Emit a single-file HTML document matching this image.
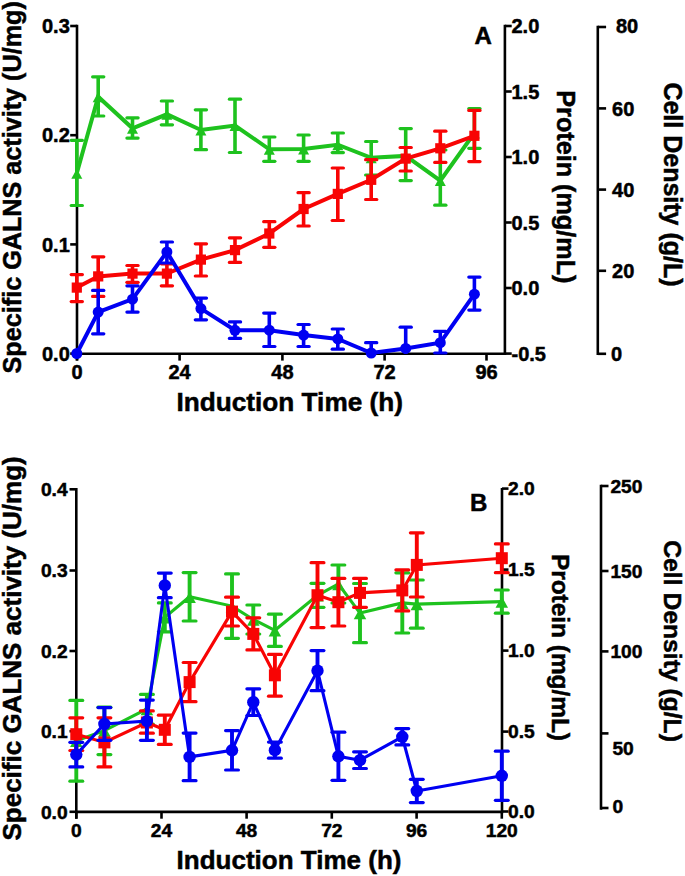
<!DOCTYPE html>
<html><head><meta charset="utf-8"><style>
html,body{margin:0;padding:0;background:#fff;width:685px;height:876px;overflow:hidden}
svg{display:block}
text{font-family:"Liberation Sans",sans-serif;font-weight:bold;fill:#000;stroke:#000;stroke-width:0.5px}
</style></head><body>
<svg width="685" height="876" viewBox="0 0 685 876">
<rect width="685" height="876" fill="#fff"/>
<line x1="77.00" y1="24.80" x2="77.00" y2="360.60" stroke="#000" stroke-width="2.6" stroke-linecap="butt"/>
<line x1="70.20" y1="26.00" x2="77.00" y2="26.00" stroke="#000" stroke-width="2.6" stroke-linecap="butt"/>
<line x1="70.20" y1="135.20" x2="77.00" y2="135.20" stroke="#000" stroke-width="2.6" stroke-linecap="butt"/>
<line x1="70.20" y1="244.40" x2="77.00" y2="244.40" stroke="#000" stroke-width="2.6" stroke-linecap="butt"/>
<line x1="70.20" y1="353.60" x2="77.00" y2="353.60" stroke="#000" stroke-width="2.6" stroke-linecap="butt"/>
<text x="69.80" y="33.10" font-size="20" text-anchor="end">0.3</text>
<text x="69.80" y="142.30" font-size="20" text-anchor="end">0.2</text>
<text x="69.80" y="251.50" font-size="20" text-anchor="end">0.1</text>
<text x="69.80" y="360.70" font-size="20" text-anchor="end">0.0</text>
<line x1="75.70" y1="353.80" x2="504.90" y2="353.80" stroke="#000" stroke-width="2.6" stroke-linecap="butt"/>
<line x1="77.00" y1="353.80" x2="77.00" y2="360.60" stroke="#000" stroke-width="2.6" stroke-linecap="butt"/>
<text x="77.00" y="379.20" font-size="20" text-anchor="middle">0</text>
<line x1="179.60" y1="353.80" x2="179.60" y2="360.60" stroke="#000" stroke-width="2.6" stroke-linecap="butt"/>
<text x="179.60" y="379.20" font-size="20" text-anchor="middle">24</text>
<line x1="282.40" y1="353.80" x2="282.40" y2="360.60" stroke="#000" stroke-width="2.6" stroke-linecap="butt"/>
<text x="282.40" y="379.20" font-size="20" text-anchor="middle">48</text>
<line x1="384.60" y1="353.80" x2="384.60" y2="360.60" stroke="#000" stroke-width="2.6" stroke-linecap="butt"/>
<text x="384.60" y="379.20" font-size="20" text-anchor="middle">72</text>
<line x1="486.50" y1="353.80" x2="486.50" y2="360.60" stroke="#000" stroke-width="2.6" stroke-linecap="butt"/>
<text x="486.50" y="379.20" font-size="20" text-anchor="middle">96</text>
<text x="176.50" y="410.60" font-size="26.2" text-anchor="start">Induction Time (h)</text>
<line x1="504.90" y1="24.80" x2="504.90" y2="355.10" stroke="#000" stroke-width="2.6" stroke-linecap="butt"/>
<line x1="504.90" y1="26.00" x2="511.70" y2="26.00" stroke="#000" stroke-width="2.6" stroke-linecap="butt"/>
<text x="511.50" y="33.10" font-size="20" text-anchor="start">2.0</text>
<line x1="504.90" y1="91.50" x2="511.70" y2="91.50" stroke="#000" stroke-width="2.6" stroke-linecap="butt"/>
<text x="511.50" y="98.60" font-size="20" text-anchor="start">1.5</text>
<line x1="504.90" y1="157.00" x2="511.70" y2="157.00" stroke="#000" stroke-width="2.6" stroke-linecap="butt"/>
<text x="511.50" y="164.10" font-size="20" text-anchor="start">1.0</text>
<line x1="504.90" y1="222.50" x2="511.70" y2="222.50" stroke="#000" stroke-width="2.6" stroke-linecap="butt"/>
<text x="511.50" y="229.60" font-size="20" text-anchor="start">0.5</text>
<line x1="504.90" y1="288.00" x2="511.70" y2="288.00" stroke="#000" stroke-width="2.6" stroke-linecap="butt"/>
<text x="511.50" y="295.10" font-size="20" text-anchor="start">0.0</text>
<line x1="504.90" y1="353.60" x2="511.70" y2="353.60" stroke="#000" stroke-width="2.6" stroke-linecap="butt"/>
<text x="511.50" y="360.70" font-size="20" text-anchor="start">-0.5</text>
<line x1="597.80" y1="25.80" x2="597.80" y2="355.10" stroke="#000" stroke-width="2.6" stroke-linecap="butt"/>
<line x1="597.80" y1="27.00" x2="606.10" y2="27.00" stroke="#000" stroke-width="2.6" stroke-linecap="butt"/>
<text x="616.00" y="32.60" font-size="20" text-anchor="start">80</text>
<line x1="597.80" y1="108.40" x2="606.10" y2="108.40" stroke="#000" stroke-width="2.6" stroke-linecap="butt"/>
<text x="612.10" y="115.50" font-size="20" text-anchor="start">60</text>
<line x1="597.80" y1="189.60" x2="606.10" y2="189.60" stroke="#000" stroke-width="2.6" stroke-linecap="butt"/>
<text x="612.10" y="196.70" font-size="20" text-anchor="start">40</text>
<line x1="597.80" y1="270.80" x2="606.10" y2="270.80" stroke="#000" stroke-width="2.6" stroke-linecap="butt"/>
<text x="612.10" y="277.90" font-size="20" text-anchor="start">20</text>
<line x1="597.80" y1="353.80" x2="606.10" y2="353.80" stroke="#000" stroke-width="2.6" stroke-linecap="butt"/>
<text x="611.00" y="360.90" font-size="20" text-anchor="start">0</text>
<text x="21.50" y="373.43" font-size="25.2" text-anchor="start" transform="rotate(-90 21.50 373.43)">Specific GALNS activity (U/mg)</text>
<text x="557.30" y="90.31" font-size="25.2" text-anchor="start" transform="rotate(90 557.30 90.31)">Protein (mg/mL)</text>
<text x="664.00" y="82.38" font-size="25.0" text-anchor="start" transform="rotate(90 664.00 82.38)">Cell Density (g/L)</text>
<text x="474.40" y="44.00" font-size="24" text-anchor="start">A</text>
<line x1="76.80" y1="173.20" x2="76.80" y2="140.30" stroke="#1ec21e" stroke-width="3.6" stroke-linecap="butt"/>
<line x1="71.20" y1="140.30" x2="82.40" y2="140.30" stroke="#1ec21e" stroke-width="3.2" stroke-linecap="round"/>
<line x1="76.80" y1="173.20" x2="76.80" y2="205.50" stroke="#1ec21e" stroke-width="3.6" stroke-linecap="butt"/>
<line x1="71.20" y1="205.50" x2="82.40" y2="205.50" stroke="#1ec21e" stroke-width="3.2" stroke-linecap="round"/>
<line x1="98.20" y1="96.80" x2="98.20" y2="76.80" stroke="#1ec21e" stroke-width="3.6" stroke-linecap="butt"/>
<line x1="92.60" y1="76.80" x2="103.80" y2="76.80" stroke="#1ec21e" stroke-width="3.2" stroke-linecap="round"/>
<line x1="98.20" y1="96.80" x2="98.20" y2="116.00" stroke="#1ec21e" stroke-width="3.6" stroke-linecap="butt"/>
<line x1="92.60" y1="116.00" x2="103.80" y2="116.00" stroke="#1ec21e" stroke-width="3.2" stroke-linecap="round"/>
<line x1="132.50" y1="128.30" x2="132.50" y2="117.80" stroke="#1ec21e" stroke-width="3.6" stroke-linecap="butt"/>
<line x1="126.90" y1="117.80" x2="138.10" y2="117.80" stroke="#1ec21e" stroke-width="3.2" stroke-linecap="round"/>
<line x1="132.50" y1="128.30" x2="132.50" y2="138.10" stroke="#1ec21e" stroke-width="3.6" stroke-linecap="butt"/>
<line x1="126.90" y1="138.10" x2="138.10" y2="138.10" stroke="#1ec21e" stroke-width="3.2" stroke-linecap="round"/>
<line x1="166.90" y1="114.30" x2="166.90" y2="101.00" stroke="#1ec21e" stroke-width="3.6" stroke-linecap="butt"/>
<line x1="161.30" y1="101.00" x2="172.50" y2="101.00" stroke="#1ec21e" stroke-width="3.2" stroke-linecap="round"/>
<line x1="166.90" y1="114.30" x2="166.90" y2="124.80" stroke="#1ec21e" stroke-width="3.6" stroke-linecap="butt"/>
<line x1="161.30" y1="124.80" x2="172.50" y2="124.80" stroke="#1ec21e" stroke-width="3.2" stroke-linecap="round"/>
<line x1="200.90" y1="130.00" x2="200.90" y2="109.80" stroke="#1ec21e" stroke-width="3.6" stroke-linecap="butt"/>
<line x1="195.30" y1="109.80" x2="206.50" y2="109.80" stroke="#1ec21e" stroke-width="3.2" stroke-linecap="round"/>
<line x1="200.90" y1="130.00" x2="200.90" y2="149.70" stroke="#1ec21e" stroke-width="3.6" stroke-linecap="butt"/>
<line x1="195.30" y1="149.70" x2="206.50" y2="149.70" stroke="#1ec21e" stroke-width="3.2" stroke-linecap="round"/>
<line x1="235.00" y1="125.50" x2="235.00" y2="99.20" stroke="#1ec21e" stroke-width="3.6" stroke-linecap="butt"/>
<line x1="229.40" y1="99.20" x2="240.60" y2="99.20" stroke="#1ec21e" stroke-width="3.2" stroke-linecap="round"/>
<line x1="235.00" y1="125.50" x2="235.00" y2="152.50" stroke="#1ec21e" stroke-width="3.6" stroke-linecap="butt"/>
<line x1="229.40" y1="152.50" x2="240.60" y2="152.50" stroke="#1ec21e" stroke-width="3.2" stroke-linecap="round"/>
<line x1="269.30" y1="149.30" x2="269.30" y2="137.00" stroke="#1ec21e" stroke-width="3.6" stroke-linecap="butt"/>
<line x1="263.70" y1="137.00" x2="274.90" y2="137.00" stroke="#1ec21e" stroke-width="3.2" stroke-linecap="round"/>
<line x1="269.30" y1="149.30" x2="269.30" y2="161.30" stroke="#1ec21e" stroke-width="3.6" stroke-linecap="butt"/>
<line x1="263.70" y1="161.30" x2="274.90" y2="161.30" stroke="#1ec21e" stroke-width="3.2" stroke-linecap="round"/>
<line x1="303.60" y1="149.00" x2="303.60" y2="135.00" stroke="#1ec21e" stroke-width="3.6" stroke-linecap="butt"/>
<line x1="298.00" y1="135.00" x2="309.20" y2="135.00" stroke="#1ec21e" stroke-width="3.2" stroke-linecap="round"/>
<line x1="303.60" y1="149.00" x2="303.60" y2="161.30" stroke="#1ec21e" stroke-width="3.6" stroke-linecap="butt"/>
<line x1="298.00" y1="161.30" x2="309.20" y2="161.30" stroke="#1ec21e" stroke-width="3.2" stroke-linecap="round"/>
<line x1="337.80" y1="144.70" x2="337.80" y2="133.00" stroke="#1ec21e" stroke-width="3.6" stroke-linecap="butt"/>
<line x1="332.20" y1="133.00" x2="343.40" y2="133.00" stroke="#1ec21e" stroke-width="3.2" stroke-linecap="round"/>
<line x1="337.80" y1="144.70" x2="337.80" y2="152.60" stroke="#1ec21e" stroke-width="3.6" stroke-linecap="butt"/>
<line x1="332.20" y1="152.60" x2="343.40" y2="152.60" stroke="#1ec21e" stroke-width="3.2" stroke-linecap="round"/>
<line x1="371.20" y1="157.80" x2="371.20" y2="141.50" stroke="#1ec21e" stroke-width="3.6" stroke-linecap="butt"/>
<line x1="365.60" y1="141.50" x2="376.80" y2="141.50" stroke="#1ec21e" stroke-width="3.2" stroke-linecap="round"/>
<line x1="371.20" y1="157.80" x2="371.20" y2="175.00" stroke="#1ec21e" stroke-width="3.6" stroke-linecap="butt"/>
<line x1="365.60" y1="175.00" x2="376.80" y2="175.00" stroke="#1ec21e" stroke-width="3.2" stroke-linecap="round"/>
<line x1="405.70" y1="155.90" x2="405.70" y2="128.60" stroke="#1ec21e" stroke-width="3.6" stroke-linecap="butt"/>
<line x1="400.10" y1="128.60" x2="411.30" y2="128.60" stroke="#1ec21e" stroke-width="3.2" stroke-linecap="round"/>
<line x1="405.70" y1="155.90" x2="405.70" y2="180.60" stroke="#1ec21e" stroke-width="3.6" stroke-linecap="butt"/>
<line x1="400.10" y1="180.60" x2="411.30" y2="180.60" stroke="#1ec21e" stroke-width="3.2" stroke-linecap="round"/>
<line x1="440.30" y1="180.60" x2="440.30" y2="150.00" stroke="#1ec21e" stroke-width="3.6" stroke-linecap="butt"/>
<line x1="434.70" y1="150.00" x2="445.90" y2="150.00" stroke="#1ec21e" stroke-width="3.2" stroke-linecap="round"/>
<line x1="440.30" y1="180.60" x2="440.30" y2="205.20" stroke="#1ec21e" stroke-width="3.6" stroke-linecap="butt"/>
<line x1="434.70" y1="205.20" x2="445.90" y2="205.20" stroke="#1ec21e" stroke-width="3.2" stroke-linecap="round"/>
<line x1="474.40" y1="133.00" x2="474.40" y2="108.50" stroke="#1ec21e" stroke-width="3.6" stroke-linecap="butt"/>
<line x1="468.80" y1="108.50" x2="480.00" y2="108.50" stroke="#1ec21e" stroke-width="3.2" stroke-linecap="round"/>
<line x1="474.40" y1="133.00" x2="474.40" y2="148.30" stroke="#1ec21e" stroke-width="3.6" stroke-linecap="butt"/>
<line x1="468.80" y1="148.30" x2="480.00" y2="148.30" stroke="#1ec21e" stroke-width="3.2" stroke-linecap="round"/>
<polyline points="76.80,173.20 98.20,96.80 132.50,128.30 166.90,114.30 200.90,130.00 235.00,125.50 269.30,149.30 303.60,149.00 337.80,144.70 371.20,157.80 405.70,155.90 440.30,180.60 474.40,133.00" fill="none" stroke="#1ec21e" stroke-width="4.0" stroke-linejoin="miter"/>
<polygon points="76.80,168.70 71.30,178.70 82.30,178.70" fill="#1ec21e"/>
<polygon points="98.20,92.30 92.70,102.30 103.70,102.30" fill="#1ec21e"/>
<polygon points="132.50,123.80 127.00,133.80 138.00,133.80" fill="#1ec21e"/>
<polygon points="166.90,109.80 161.40,119.80 172.40,119.80" fill="#1ec21e"/>
<polygon points="200.90,125.50 195.40,135.50 206.40,135.50" fill="#1ec21e"/>
<polygon points="235.00,121.00 229.50,131.00 240.50,131.00" fill="#1ec21e"/>
<polygon points="269.30,144.80 263.80,154.80 274.80,154.80" fill="#1ec21e"/>
<polygon points="303.60,144.50 298.10,154.50 309.10,154.50" fill="#1ec21e"/>
<polygon points="337.80,140.20 332.30,150.20 343.30,150.20" fill="#1ec21e"/>
<polygon points="371.20,153.30 365.70,163.30 376.70,163.30" fill="#1ec21e"/>
<polygon points="405.70,151.40 400.20,161.40 411.20,161.40" fill="#1ec21e"/>
<polygon points="440.30,176.10 434.80,186.10 445.80,186.10" fill="#1ec21e"/>
<polygon points="474.40,128.50 468.90,138.50 479.90,138.50" fill="#1ec21e"/>
<line x1="76.80" y1="287.60" x2="76.80" y2="274.60" stroke="#f80404" stroke-width="3.6" stroke-linecap="butt"/>
<line x1="71.20" y1="274.60" x2="82.40" y2="274.60" stroke="#f80404" stroke-width="3.2" stroke-linecap="round"/>
<line x1="76.80" y1="287.60" x2="76.80" y2="301.60" stroke="#f80404" stroke-width="3.6" stroke-linecap="butt"/>
<line x1="71.20" y1="301.60" x2="82.40" y2="301.60" stroke="#f80404" stroke-width="3.2" stroke-linecap="round"/>
<line x1="98.20" y1="276.40" x2="98.20" y2="256.80" stroke="#f80404" stroke-width="3.6" stroke-linecap="butt"/>
<line x1="92.60" y1="256.80" x2="103.80" y2="256.80" stroke="#f80404" stroke-width="3.2" stroke-linecap="round"/>
<line x1="98.20" y1="276.40" x2="98.20" y2="296.40" stroke="#f80404" stroke-width="3.6" stroke-linecap="butt"/>
<line x1="92.60" y1="296.40" x2="103.80" y2="296.40" stroke="#f80404" stroke-width="3.2" stroke-linecap="round"/>
<line x1="132.50" y1="273.60" x2="132.50" y2="265.50" stroke="#f80404" stroke-width="3.6" stroke-linecap="butt"/>
<line x1="126.90" y1="265.50" x2="138.10" y2="265.50" stroke="#f80404" stroke-width="3.2" stroke-linecap="round"/>
<line x1="132.50" y1="273.60" x2="132.50" y2="282.30" stroke="#f80404" stroke-width="3.6" stroke-linecap="butt"/>
<line x1="126.90" y1="282.30" x2="138.10" y2="282.30" stroke="#f80404" stroke-width="3.2" stroke-linecap="round"/>
<line x1="166.90" y1="273.60" x2="166.90" y2="263.80" stroke="#f80404" stroke-width="3.6" stroke-linecap="butt"/>
<line x1="161.30" y1="263.80" x2="172.50" y2="263.80" stroke="#f80404" stroke-width="3.2" stroke-linecap="round"/>
<line x1="166.90" y1="273.60" x2="166.90" y2="285.80" stroke="#f80404" stroke-width="3.6" stroke-linecap="butt"/>
<line x1="161.30" y1="285.80" x2="172.50" y2="285.80" stroke="#f80404" stroke-width="3.2" stroke-linecap="round"/>
<line x1="200.90" y1="259.60" x2="200.90" y2="243.80" stroke="#f80404" stroke-width="3.6" stroke-linecap="butt"/>
<line x1="195.30" y1="243.80" x2="206.50" y2="243.80" stroke="#f80404" stroke-width="3.2" stroke-linecap="round"/>
<line x1="200.90" y1="259.60" x2="200.90" y2="276.00" stroke="#f80404" stroke-width="3.6" stroke-linecap="butt"/>
<line x1="195.30" y1="276.00" x2="206.50" y2="276.00" stroke="#f80404" stroke-width="3.2" stroke-linecap="round"/>
<line x1="235.00" y1="250.10" x2="235.00" y2="237.80" stroke="#f80404" stroke-width="3.6" stroke-linecap="butt"/>
<line x1="229.40" y1="237.80" x2="240.60" y2="237.80" stroke="#f80404" stroke-width="3.2" stroke-linecap="round"/>
<line x1="235.00" y1="250.10" x2="235.00" y2="262.40" stroke="#f80404" stroke-width="3.6" stroke-linecap="butt"/>
<line x1="229.40" y1="262.40" x2="240.60" y2="262.40" stroke="#f80404" stroke-width="3.2" stroke-linecap="round"/>
<line x1="269.30" y1="233.50" x2="269.30" y2="221.70" stroke="#f80404" stroke-width="3.6" stroke-linecap="butt"/>
<line x1="263.70" y1="221.70" x2="274.90" y2="221.70" stroke="#f80404" stroke-width="3.2" stroke-linecap="round"/>
<line x1="269.30" y1="233.50" x2="269.30" y2="247.30" stroke="#f80404" stroke-width="3.6" stroke-linecap="butt"/>
<line x1="263.70" y1="247.30" x2="274.90" y2="247.30" stroke="#f80404" stroke-width="3.2" stroke-linecap="round"/>
<line x1="303.60" y1="209.00" x2="303.60" y2="192.70" stroke="#f80404" stroke-width="3.6" stroke-linecap="butt"/>
<line x1="298.00" y1="192.70" x2="309.20" y2="192.70" stroke="#f80404" stroke-width="3.2" stroke-linecap="round"/>
<line x1="303.60" y1="209.00" x2="303.60" y2="226.00" stroke="#f80404" stroke-width="3.6" stroke-linecap="butt"/>
<line x1="298.00" y1="226.00" x2="309.20" y2="226.00" stroke="#f80404" stroke-width="3.2" stroke-linecap="round"/>
<line x1="337.80" y1="193.90" x2="337.80" y2="168.00" stroke="#f80404" stroke-width="3.6" stroke-linecap="butt"/>
<line x1="332.20" y1="168.00" x2="343.40" y2="168.00" stroke="#f80404" stroke-width="3.2" stroke-linecap="round"/>
<line x1="337.80" y1="193.90" x2="337.80" y2="220.50" stroke="#f80404" stroke-width="3.6" stroke-linecap="butt"/>
<line x1="332.20" y1="220.50" x2="343.40" y2="220.50" stroke="#f80404" stroke-width="3.2" stroke-linecap="round"/>
<line x1="371.20" y1="179.80" x2="371.20" y2="159.70" stroke="#f80404" stroke-width="3.6" stroke-linecap="butt"/>
<line x1="365.60" y1="159.70" x2="376.80" y2="159.70" stroke="#f80404" stroke-width="3.2" stroke-linecap="round"/>
<line x1="371.20" y1="179.80" x2="371.20" y2="199.50" stroke="#f80404" stroke-width="3.6" stroke-linecap="butt"/>
<line x1="365.60" y1="199.50" x2="376.80" y2="199.50" stroke="#f80404" stroke-width="3.2" stroke-linecap="round"/>
<line x1="405.70" y1="158.60" x2="405.70" y2="147.50" stroke="#f80404" stroke-width="3.6" stroke-linecap="butt"/>
<line x1="400.10" y1="147.50" x2="411.30" y2="147.50" stroke="#f80404" stroke-width="3.2" stroke-linecap="round"/>
<line x1="405.70" y1="158.60" x2="405.70" y2="171.00" stroke="#f80404" stroke-width="3.6" stroke-linecap="butt"/>
<line x1="400.10" y1="171.00" x2="411.30" y2="171.00" stroke="#f80404" stroke-width="3.2" stroke-linecap="round"/>
<line x1="440.30" y1="148.30" x2="440.30" y2="131.20" stroke="#f80404" stroke-width="3.6" stroke-linecap="butt"/>
<line x1="434.70" y1="131.20" x2="445.90" y2="131.20" stroke="#f80404" stroke-width="3.2" stroke-linecap="round"/>
<line x1="440.30" y1="148.30" x2="440.30" y2="162.40" stroke="#f80404" stroke-width="3.6" stroke-linecap="butt"/>
<line x1="434.70" y1="162.40" x2="445.90" y2="162.40" stroke="#f80404" stroke-width="3.2" stroke-linecap="round"/>
<line x1="474.40" y1="135.80" x2="474.40" y2="110.40" stroke="#f80404" stroke-width="3.6" stroke-linecap="butt"/>
<line x1="468.80" y1="110.40" x2="480.00" y2="110.40" stroke="#f80404" stroke-width="3.2" stroke-linecap="round"/>
<line x1="474.40" y1="135.80" x2="474.40" y2="161.60" stroke="#f80404" stroke-width="3.6" stroke-linecap="butt"/>
<line x1="468.80" y1="161.60" x2="480.00" y2="161.60" stroke="#f80404" stroke-width="3.2" stroke-linecap="round"/>
<polyline points="76.80,287.60 98.20,276.40 132.50,273.60 166.90,273.60 200.90,259.60 235.00,250.10 269.30,233.50 303.60,209.00 337.80,193.90 371.20,179.80 405.70,158.60 440.30,148.30 474.40,135.80" fill="none" stroke="#f80404" stroke-width="4.0" stroke-linejoin="miter"/>
<rect x="71.70" y="282.50" width="10.2" height="10.2" fill="#f80404"/>
<rect x="93.10" y="271.30" width="10.2" height="10.2" fill="#f80404"/>
<rect x="127.40" y="268.50" width="10.2" height="10.2" fill="#f80404"/>
<rect x="161.80" y="268.50" width="10.2" height="10.2" fill="#f80404"/>
<rect x="195.80" y="254.50" width="10.2" height="10.2" fill="#f80404"/>
<rect x="229.90" y="245.00" width="10.2" height="10.2" fill="#f80404"/>
<rect x="264.20" y="228.40" width="10.2" height="10.2" fill="#f80404"/>
<rect x="298.50" y="203.90" width="10.2" height="10.2" fill="#f80404"/>
<rect x="332.70" y="188.80" width="10.2" height="10.2" fill="#f80404"/>
<rect x="366.10" y="174.70" width="10.2" height="10.2" fill="#f80404"/>
<rect x="400.60" y="153.50" width="10.2" height="10.2" fill="#f80404"/>
<rect x="435.20" y="143.20" width="10.2" height="10.2" fill="#f80404"/>
<rect x="469.30" y="130.70" width="10.2" height="10.2" fill="#f80404"/>
<line x1="98.20" y1="312.10" x2="98.20" y2="290.40" stroke="#0000f2" stroke-width="3.6" stroke-linecap="butt"/>
<line x1="92.60" y1="290.40" x2="103.80" y2="290.40" stroke="#0000f2" stroke-width="3.2" stroke-linecap="round"/>
<line x1="98.20" y1="312.10" x2="98.20" y2="333.80" stroke="#0000f2" stroke-width="3.6" stroke-linecap="butt"/>
<line x1="92.60" y1="333.80" x2="103.80" y2="333.80" stroke="#0000f2" stroke-width="3.2" stroke-linecap="round"/>
<line x1="132.50" y1="299.20" x2="132.50" y2="285.80" stroke="#0000f2" stroke-width="3.6" stroke-linecap="butt"/>
<line x1="126.90" y1="285.80" x2="138.10" y2="285.80" stroke="#0000f2" stroke-width="3.2" stroke-linecap="round"/>
<line x1="132.50" y1="299.20" x2="132.50" y2="312.10" stroke="#0000f2" stroke-width="3.6" stroke-linecap="butt"/>
<line x1="126.90" y1="312.10" x2="138.10" y2="312.10" stroke="#0000f2" stroke-width="3.2" stroke-linecap="round"/>
<line x1="166.90" y1="251.90" x2="166.90" y2="242.00" stroke="#0000f2" stroke-width="3.6" stroke-linecap="butt"/>
<line x1="161.30" y1="242.00" x2="172.50" y2="242.00" stroke="#0000f2" stroke-width="3.2" stroke-linecap="round"/>
<line x1="166.90" y1="251.90" x2="166.90" y2="263.00" stroke="#0000f2" stroke-width="3.6" stroke-linecap="butt"/>
<line x1="161.30" y1="263.00" x2="172.50" y2="263.00" stroke="#0000f2" stroke-width="3.2" stroke-linecap="round"/>
<line x1="200.90" y1="308.60" x2="200.90" y2="298.10" stroke="#0000f2" stroke-width="3.6" stroke-linecap="butt"/>
<line x1="195.30" y1="298.10" x2="206.50" y2="298.10" stroke="#0000f2" stroke-width="3.2" stroke-linecap="round"/>
<line x1="200.90" y1="308.60" x2="200.90" y2="319.80" stroke="#0000f2" stroke-width="3.6" stroke-linecap="butt"/>
<line x1="195.30" y1="319.80" x2="206.50" y2="319.80" stroke="#0000f2" stroke-width="3.2" stroke-linecap="round"/>
<line x1="235.00" y1="330.30" x2="235.00" y2="321.90" stroke="#0000f2" stroke-width="3.6" stroke-linecap="butt"/>
<line x1="229.40" y1="321.90" x2="240.60" y2="321.90" stroke="#0000f2" stroke-width="3.2" stroke-linecap="round"/>
<line x1="235.00" y1="330.30" x2="235.00" y2="338.40" stroke="#0000f2" stroke-width="3.6" stroke-linecap="butt"/>
<line x1="229.40" y1="338.40" x2="240.60" y2="338.40" stroke="#0000f2" stroke-width="3.2" stroke-linecap="round"/>
<line x1="269.30" y1="330.20" x2="269.30" y2="313.10" stroke="#0000f2" stroke-width="3.6" stroke-linecap="butt"/>
<line x1="263.70" y1="313.10" x2="274.90" y2="313.10" stroke="#0000f2" stroke-width="3.2" stroke-linecap="round"/>
<line x1="269.30" y1="330.20" x2="269.30" y2="346.50" stroke="#0000f2" stroke-width="3.6" stroke-linecap="butt"/>
<line x1="263.70" y1="346.50" x2="274.90" y2="346.50" stroke="#0000f2" stroke-width="3.2" stroke-linecap="round"/>
<line x1="303.60" y1="335.10" x2="303.60" y2="324.50" stroke="#0000f2" stroke-width="3.6" stroke-linecap="butt"/>
<line x1="298.00" y1="324.50" x2="309.20" y2="324.50" stroke="#0000f2" stroke-width="3.2" stroke-linecap="round"/>
<line x1="303.60" y1="335.10" x2="303.60" y2="346.50" stroke="#0000f2" stroke-width="3.6" stroke-linecap="butt"/>
<line x1="298.00" y1="346.50" x2="309.20" y2="346.50" stroke="#0000f2" stroke-width="3.2" stroke-linecap="round"/>
<line x1="337.80" y1="338.90" x2="337.80" y2="329.00" stroke="#0000f2" stroke-width="3.6" stroke-linecap="butt"/>
<line x1="332.20" y1="329.00" x2="343.40" y2="329.00" stroke="#0000f2" stroke-width="3.2" stroke-linecap="round"/>
<line x1="337.80" y1="338.90" x2="337.80" y2="349.20" stroke="#0000f2" stroke-width="3.6" stroke-linecap="butt"/>
<line x1="332.20" y1="349.20" x2="343.40" y2="349.20" stroke="#0000f2" stroke-width="3.2" stroke-linecap="round"/>
<line x1="371.20" y1="353.00" x2="371.20" y2="342.70" stroke="#0000f2" stroke-width="3.6" stroke-linecap="butt"/>
<line x1="365.60" y1="342.70" x2="376.80" y2="342.70" stroke="#0000f2" stroke-width="3.2" stroke-linecap="round"/>
<line x1="371.20" y1="353.00" x2="371.20" y2="353.80" stroke="#0000f2" stroke-width="3.6" stroke-linecap="butt"/>
<line x1="405.70" y1="348.40" x2="405.70" y2="327.20" stroke="#0000f2" stroke-width="3.6" stroke-linecap="butt"/>
<line x1="400.10" y1="327.20" x2="411.30" y2="327.20" stroke="#0000f2" stroke-width="3.2" stroke-linecap="round"/>
<line x1="405.70" y1="348.40" x2="405.70" y2="353.80" stroke="#0000f2" stroke-width="3.6" stroke-linecap="butt"/>
<line x1="440.30" y1="342.70" x2="440.30" y2="331.30" stroke="#0000f2" stroke-width="3.6" stroke-linecap="butt"/>
<line x1="434.70" y1="331.30" x2="445.90" y2="331.30" stroke="#0000f2" stroke-width="3.2" stroke-linecap="round"/>
<line x1="440.30" y1="342.70" x2="440.30" y2="353.00" stroke="#0000f2" stroke-width="3.6" stroke-linecap="butt"/>
<line x1="434.70" y1="353.00" x2="445.90" y2="353.00" stroke="#0000f2" stroke-width="3.2" stroke-linecap="round"/>
<line x1="474.40" y1="294.20" x2="474.40" y2="277.10" stroke="#0000f2" stroke-width="3.6" stroke-linecap="butt"/>
<line x1="468.80" y1="277.10" x2="480.00" y2="277.10" stroke="#0000f2" stroke-width="3.2" stroke-linecap="round"/>
<line x1="474.40" y1="294.20" x2="474.40" y2="310.10" stroke="#0000f2" stroke-width="3.6" stroke-linecap="butt"/>
<line x1="468.80" y1="310.10" x2="480.00" y2="310.10" stroke="#0000f2" stroke-width="3.2" stroke-linecap="round"/>
<polyline points="76.80,353.50 98.20,312.10 132.50,299.20 166.90,251.90 200.90,308.60 235.00,330.30 269.30,330.20 303.60,335.10 337.80,338.90 371.20,353.00 405.70,348.40 440.30,342.70 474.40,294.20" fill="none" stroke="#0000f2" stroke-width="4.0" stroke-linejoin="miter"/>
<circle cx="76.80" cy="353.50" r="5.50" fill="#0000f2"/>
<circle cx="98.20" cy="312.10" r="5.50" fill="#0000f2"/>
<circle cx="132.50" cy="299.20" r="5.50" fill="#0000f2"/>
<circle cx="166.90" cy="251.90" r="5.50" fill="#0000f2"/>
<circle cx="200.90" cy="308.60" r="5.50" fill="#0000f2"/>
<circle cx="235.00" cy="330.30" r="5.50" fill="#0000f2"/>
<circle cx="269.30" cy="330.20" r="5.50" fill="#0000f2"/>
<circle cx="303.60" cy="335.10" r="5.50" fill="#0000f2"/>
<circle cx="337.80" cy="338.90" r="5.50" fill="#0000f2"/>
<circle cx="371.20" cy="353.00" r="5.50" fill="#0000f2"/>
<circle cx="405.70" cy="348.40" r="5.50" fill="#0000f2"/>
<circle cx="440.30" cy="342.70" r="5.50" fill="#0000f2"/>
<circle cx="474.40" cy="294.20" r="5.50" fill="#0000f2"/>
<line x1="76.30" y1="488.10" x2="76.30" y2="818.70" stroke="#000" stroke-width="2.6" stroke-linecap="butt"/>
<line x1="69.50" y1="489.30" x2="76.30" y2="489.30" stroke="#000" stroke-width="2.6" stroke-linecap="butt"/>
<text x="67.60" y="496.10" font-size="19.2" text-anchor="end">0.4</text>
<line x1="69.50" y1="570.50" x2="76.30" y2="570.50" stroke="#000" stroke-width="2.6" stroke-linecap="butt"/>
<text x="67.60" y="577.30" font-size="19.2" text-anchor="end">0.3</text>
<line x1="69.50" y1="651.00" x2="76.30" y2="651.00" stroke="#000" stroke-width="2.6" stroke-linecap="butt"/>
<text x="67.60" y="657.80" font-size="19.2" text-anchor="end">0.2</text>
<line x1="69.50" y1="731.20" x2="76.30" y2="731.20" stroke="#000" stroke-width="2.6" stroke-linecap="butt"/>
<text x="67.60" y="738.00" font-size="19.2" text-anchor="end">0.1</text>
<line x1="69.50" y1="811.80" x2="76.30" y2="811.80" stroke="#000" stroke-width="2.6" stroke-linecap="butt"/>
<text x="67.60" y="818.60" font-size="19.2" text-anchor="end">0.0</text>
<line x1="75.00" y1="811.90" x2="502.00" y2="811.90" stroke="#000" stroke-width="2.6" stroke-linecap="butt"/>
<line x1="76.30" y1="811.90" x2="76.30" y2="818.70" stroke="#000" stroke-width="2.6" stroke-linecap="butt"/>
<text x="76.30" y="837.10" font-size="19.2" text-anchor="middle">0</text>
<line x1="161.50" y1="811.90" x2="161.50" y2="818.70" stroke="#000" stroke-width="2.6" stroke-linecap="butt"/>
<text x="161.50" y="837.10" font-size="19.2" text-anchor="middle">24</text>
<line x1="246.60" y1="811.90" x2="246.60" y2="818.70" stroke="#000" stroke-width="2.6" stroke-linecap="butt"/>
<text x="246.60" y="837.10" font-size="19.2" text-anchor="middle">48</text>
<line x1="331.80" y1="811.90" x2="331.80" y2="818.70" stroke="#000" stroke-width="2.6" stroke-linecap="butt"/>
<text x="331.80" y="837.10" font-size="19.2" text-anchor="middle">72</text>
<line x1="416.60" y1="811.90" x2="416.60" y2="818.70" stroke="#000" stroke-width="2.6" stroke-linecap="butt"/>
<text x="416.60" y="837.10" font-size="19.2" text-anchor="middle">96</text>
<line x1="501.80" y1="811.90" x2="501.80" y2="818.70" stroke="#000" stroke-width="2.6" stroke-linecap="butt"/>
<text x="501.80" y="837.10" font-size="19.2" text-anchor="middle">120</text>
<text x="176.60" y="868.50" font-size="26.0" text-anchor="start">Induction Time (h)</text>
<line x1="502.00" y1="488.10" x2="502.00" y2="813.20" stroke="#000" stroke-width="2.6" stroke-linecap="butt"/>
<line x1="502.00" y1="488.60" x2="508.50" y2="488.60" stroke="#000" stroke-width="2.6" stroke-linecap="butt"/>
<text x="508.10" y="495.40" font-size="19.2" text-anchor="start">2.0</text>
<line x1="502.00" y1="569.60" x2="508.50" y2="569.60" stroke="#000" stroke-width="2.6" stroke-linecap="butt"/>
<text x="508.10" y="576.40" font-size="19.2" text-anchor="start">1.5</text>
<line x1="502.00" y1="650.60" x2="508.50" y2="650.60" stroke="#000" stroke-width="2.6" stroke-linecap="butt"/>
<text x="508.10" y="657.40" font-size="19.2" text-anchor="start">1.0</text>
<line x1="502.00" y1="731.60" x2="508.50" y2="731.60" stroke="#000" stroke-width="2.6" stroke-linecap="butt"/>
<text x="508.10" y="738.40" font-size="19.2" text-anchor="start">0.5</text>
<line x1="502.00" y1="811.50" x2="508.50" y2="811.50" stroke="#000" stroke-width="2.6" stroke-linecap="butt"/>
<text x="508.10" y="818.30" font-size="19.2" text-anchor="start">0.0</text>
<line x1="601.00" y1="484.80" x2="601.00" y2="809.80" stroke="#000" stroke-width="2.6" stroke-linecap="butt"/>
<line x1="601.00" y1="486.00" x2="608.50" y2="486.00" stroke="#000" stroke-width="2.6" stroke-linecap="butt"/>
<text x="610.40" y="492.80" font-size="19.2" text-anchor="start">250</text>
<line x1="601.00" y1="571.00" x2="608.50" y2="571.00" stroke="#000" stroke-width="2.6" stroke-linecap="butt"/>
<text x="610.40" y="577.80" font-size="19.2" text-anchor="start">150</text>
<line x1="601.00" y1="651.40" x2="608.50" y2="651.40" stroke="#000" stroke-width="2.6" stroke-linecap="butt"/>
<text x="610.40" y="658.20" font-size="19.2" text-anchor="start">100</text>
<line x1="601.00" y1="733.40" x2="608.50" y2="733.40" stroke="#000" stroke-width="2.6" stroke-linecap="butt"/>
<text x="612.40" y="755.00" font-size="19.2" text-anchor="start">50</text>
<line x1="601.00" y1="808.00" x2="608.50" y2="808.00" stroke="#000" stroke-width="2.6" stroke-linecap="butt"/>
<text x="612.40" y="813.30" font-size="19.2" text-anchor="start">0</text>
<text x="21.50" y="840.55" font-size="26.0" text-anchor="start" transform="rotate(-90 21.50 840.55)">Specific GALNS activity (U/mg)</text>
<text x="551.70" y="553.97" font-size="24.4" text-anchor="start" transform="rotate(90 551.70 553.97)">Protein (mg/mL)</text>
<text x="664.10" y="540.29" font-size="24.7" text-anchor="start" transform="rotate(90 664.10 540.29)">Cell Density (g/L)</text>
<text x="469.99" y="511.40" font-size="24" text-anchor="start">B</text>
<line x1="76.30" y1="740.80" x2="76.30" y2="700.40" stroke="#1ec21e" stroke-width="3.9" stroke-linecap="butt"/>
<line x1="69.90" y1="700.40" x2="82.70" y2="700.40" stroke="#1ec21e" stroke-width="3.2" stroke-linecap="round"/>
<line x1="76.30" y1="740.80" x2="76.30" y2="781.20" stroke="#1ec21e" stroke-width="3.9" stroke-linecap="butt"/>
<line x1="69.90" y1="781.20" x2="82.70" y2="781.20" stroke="#1ec21e" stroke-width="3.2" stroke-linecap="round"/>
<line x1="104.40" y1="730.60" x2="104.40" y2="707.20" stroke="#1ec21e" stroke-width="3.9" stroke-linecap="butt"/>
<line x1="98.00" y1="707.20" x2="110.80" y2="707.20" stroke="#1ec21e" stroke-width="3.2" stroke-linecap="round"/>
<line x1="104.40" y1="730.60" x2="104.40" y2="754.60" stroke="#1ec21e" stroke-width="3.9" stroke-linecap="butt"/>
<line x1="98.00" y1="754.60" x2="110.80" y2="754.60" stroke="#1ec21e" stroke-width="3.2" stroke-linecap="round"/>
<line x1="146.90" y1="709.00" x2="146.90" y2="694.40" stroke="#1ec21e" stroke-width="3.9" stroke-linecap="butt"/>
<line x1="140.50" y1="694.40" x2="153.30" y2="694.40" stroke="#1ec21e" stroke-width="3.2" stroke-linecap="round"/>
<line x1="146.90" y1="709.00" x2="146.90" y2="724.00" stroke="#1ec21e" stroke-width="3.9" stroke-linecap="butt"/>
<line x1="140.50" y1="724.00" x2="153.30" y2="724.00" stroke="#1ec21e" stroke-width="3.2" stroke-linecap="round"/>
<line x1="164.80" y1="617.40" x2="164.80" y2="602.90" stroke="#1ec21e" stroke-width="3.9" stroke-linecap="butt"/>
<line x1="158.40" y1="602.90" x2="171.20" y2="602.90" stroke="#1ec21e" stroke-width="3.2" stroke-linecap="round"/>
<line x1="164.80" y1="617.40" x2="164.80" y2="631.80" stroke="#1ec21e" stroke-width="3.9" stroke-linecap="butt"/>
<line x1="158.40" y1="631.80" x2="171.20" y2="631.80" stroke="#1ec21e" stroke-width="3.2" stroke-linecap="round"/>
<line x1="189.60" y1="596.80" x2="189.60" y2="572.60" stroke="#1ec21e" stroke-width="3.9" stroke-linecap="butt"/>
<line x1="183.20" y1="572.60" x2="196.00" y2="572.60" stroke="#1ec21e" stroke-width="3.2" stroke-linecap="round"/>
<line x1="189.60" y1="596.80" x2="189.60" y2="621.00" stroke="#1ec21e" stroke-width="3.9" stroke-linecap="butt"/>
<line x1="183.20" y1="621.00" x2="196.00" y2="621.00" stroke="#1ec21e" stroke-width="3.2" stroke-linecap="round"/>
<line x1="232.00" y1="606.10" x2="232.00" y2="573.90" stroke="#1ec21e" stroke-width="3.9" stroke-linecap="butt"/>
<line x1="225.60" y1="573.90" x2="238.40" y2="573.90" stroke="#1ec21e" stroke-width="3.2" stroke-linecap="round"/>
<line x1="232.00" y1="606.10" x2="232.00" y2="638.30" stroke="#1ec21e" stroke-width="3.9" stroke-linecap="butt"/>
<line x1="225.60" y1="638.30" x2="238.40" y2="638.30" stroke="#1ec21e" stroke-width="3.2" stroke-linecap="round"/>
<line x1="253.30" y1="619.50" x2="253.30" y2="605.00" stroke="#1ec21e" stroke-width="3.9" stroke-linecap="butt"/>
<line x1="246.90" y1="605.00" x2="259.70" y2="605.00" stroke="#1ec21e" stroke-width="3.2" stroke-linecap="round"/>
<line x1="253.30" y1="619.50" x2="253.30" y2="634.00" stroke="#1ec21e" stroke-width="3.9" stroke-linecap="butt"/>
<line x1="246.90" y1="634.00" x2="259.70" y2="634.00" stroke="#1ec21e" stroke-width="3.2" stroke-linecap="round"/>
<line x1="274.90" y1="630.30" x2="274.90" y2="614.20" stroke="#1ec21e" stroke-width="3.9" stroke-linecap="butt"/>
<line x1="268.50" y1="614.20" x2="281.30" y2="614.20" stroke="#1ec21e" stroke-width="3.2" stroke-linecap="round"/>
<line x1="274.90" y1="630.30" x2="274.90" y2="646.40" stroke="#1ec21e" stroke-width="3.9" stroke-linecap="butt"/>
<line x1="268.50" y1="646.40" x2="281.30" y2="646.40" stroke="#1ec21e" stroke-width="3.2" stroke-linecap="round"/>
<line x1="317.50" y1="595.30" x2="317.50" y2="583.30" stroke="#1ec21e" stroke-width="3.9" stroke-linecap="butt"/>
<line x1="311.10" y1="583.30" x2="323.90" y2="583.30" stroke="#1ec21e" stroke-width="3.2" stroke-linecap="round"/>
<line x1="317.50" y1="595.30" x2="317.50" y2="607.30" stroke="#1ec21e" stroke-width="3.9" stroke-linecap="butt"/>
<line x1="311.10" y1="607.30" x2="323.90" y2="607.30" stroke="#1ec21e" stroke-width="3.2" stroke-linecap="round"/>
<line x1="338.40" y1="584.00" x2="338.40" y2="565.00" stroke="#1ec21e" stroke-width="3.9" stroke-linecap="butt"/>
<line x1="332.00" y1="565.00" x2="344.80" y2="565.00" stroke="#1ec21e" stroke-width="3.2" stroke-linecap="round"/>
<line x1="338.40" y1="584.00" x2="338.40" y2="603.00" stroke="#1ec21e" stroke-width="3.9" stroke-linecap="butt"/>
<line x1="332.00" y1="603.00" x2="344.80" y2="603.00" stroke="#1ec21e" stroke-width="3.2" stroke-linecap="round"/>
<line x1="360.00" y1="613.10" x2="360.00" y2="583.50" stroke="#1ec21e" stroke-width="3.9" stroke-linecap="butt"/>
<line x1="353.60" y1="583.50" x2="366.40" y2="583.50" stroke="#1ec21e" stroke-width="3.2" stroke-linecap="round"/>
<line x1="360.00" y1="613.10" x2="360.00" y2="642.70" stroke="#1ec21e" stroke-width="3.9" stroke-linecap="butt"/>
<line x1="353.60" y1="642.70" x2="366.40" y2="642.70" stroke="#1ec21e" stroke-width="3.2" stroke-linecap="round"/>
<line x1="402.30" y1="602.90" x2="402.30" y2="572.80" stroke="#1ec21e" stroke-width="3.9" stroke-linecap="butt"/>
<line x1="395.90" y1="572.80" x2="408.70" y2="572.80" stroke="#1ec21e" stroke-width="3.2" stroke-linecap="round"/>
<line x1="402.30" y1="602.90" x2="402.30" y2="633.00" stroke="#1ec21e" stroke-width="3.9" stroke-linecap="butt"/>
<line x1="395.90" y1="633.00" x2="408.70" y2="633.00" stroke="#1ec21e" stroke-width="3.2" stroke-linecap="round"/>
<line x1="416.80" y1="604.10" x2="416.80" y2="580.00" stroke="#1ec21e" stroke-width="3.9" stroke-linecap="butt"/>
<line x1="410.40" y1="580.00" x2="423.20" y2="580.00" stroke="#1ec21e" stroke-width="3.2" stroke-linecap="round"/>
<line x1="416.80" y1="604.10" x2="416.80" y2="628.20" stroke="#1ec21e" stroke-width="3.9" stroke-linecap="butt"/>
<line x1="410.40" y1="628.20" x2="423.20" y2="628.20" stroke="#1ec21e" stroke-width="3.2" stroke-linecap="round"/>
<line x1="501.80" y1="601.60" x2="501.80" y2="590.00" stroke="#1ec21e" stroke-width="3.9" stroke-linecap="butt"/>
<line x1="495.40" y1="590.00" x2="508.20" y2="590.00" stroke="#1ec21e" stroke-width="3.2" stroke-linecap="round"/>
<line x1="501.80" y1="601.60" x2="501.80" y2="613.20" stroke="#1ec21e" stroke-width="3.9" stroke-linecap="butt"/>
<line x1="495.40" y1="613.20" x2="508.20" y2="613.20" stroke="#1ec21e" stroke-width="3.2" stroke-linecap="round"/>
<polyline points="76.30,740.80 104.40,730.60 146.90,709.00 164.80,617.40 189.60,596.80 232.00,606.10 253.30,619.50 274.90,630.30 317.50,595.30 338.40,584.00 360.00,613.10 402.30,602.90 416.80,604.10 501.80,601.60" fill="none" stroke="#1ec21e" stroke-width="3.1" stroke-linejoin="miter"/>
<polygon points="76.30,735.80 70.05,747.00 82.55,747.00" fill="#1ec21e"/>
<polygon points="104.40,725.60 98.15,736.80 110.65,736.80" fill="#1ec21e"/>
<polygon points="146.90,704.00 140.65,715.20 153.15,715.20" fill="#1ec21e"/>
<polygon points="164.80,612.40 158.55,623.60 171.05,623.60" fill="#1ec21e"/>
<polygon points="189.60,591.80 183.35,603.00 195.85,603.00" fill="#1ec21e"/>
<polygon points="232.00,601.10 225.75,612.30 238.25,612.30" fill="#1ec21e"/>
<polygon points="253.30,614.50 247.05,625.70 259.55,625.70" fill="#1ec21e"/>
<polygon points="274.90,625.30 268.65,636.50 281.15,636.50" fill="#1ec21e"/>
<polygon points="317.50,590.30 311.25,601.50 323.75,601.50" fill="#1ec21e"/>
<polygon points="338.40,579.00 332.15,590.20 344.65,590.20" fill="#1ec21e"/>
<polygon points="360.00,608.10 353.75,619.30 366.25,619.30" fill="#1ec21e"/>
<polygon points="402.30,597.90 396.05,609.10 408.55,609.10" fill="#1ec21e"/>
<polygon points="416.80,599.10 410.55,610.30 423.05,610.30" fill="#1ec21e"/>
<polygon points="501.80,596.60 495.55,607.80 508.05,607.80" fill="#1ec21e"/>
<line x1="76.30" y1="734.20" x2="76.30" y2="717.80" stroke="#f80404" stroke-width="3.9" stroke-linecap="butt"/>
<line x1="69.90" y1="717.80" x2="82.70" y2="717.80" stroke="#f80404" stroke-width="3.2" stroke-linecap="round"/>
<line x1="76.30" y1="734.20" x2="76.30" y2="750.50" stroke="#f80404" stroke-width="3.9" stroke-linecap="butt"/>
<line x1="69.90" y1="750.50" x2="82.70" y2="750.50" stroke="#f80404" stroke-width="3.2" stroke-linecap="round"/>
<line x1="104.40" y1="742.40" x2="104.40" y2="717.80" stroke="#f80404" stroke-width="3.9" stroke-linecap="butt"/>
<line x1="98.00" y1="717.80" x2="110.80" y2="717.80" stroke="#f80404" stroke-width="3.2" stroke-linecap="round"/>
<line x1="104.40" y1="742.40" x2="104.40" y2="766.90" stroke="#f80404" stroke-width="3.9" stroke-linecap="butt"/>
<line x1="98.00" y1="766.90" x2="110.80" y2="766.90" stroke="#f80404" stroke-width="3.2" stroke-linecap="round"/>
<line x1="146.90" y1="722.50" x2="146.90" y2="710.90" stroke="#f80404" stroke-width="3.9" stroke-linecap="butt"/>
<line x1="140.50" y1="710.90" x2="153.30" y2="710.90" stroke="#f80404" stroke-width="3.2" stroke-linecap="round"/>
<line x1="146.90" y1="722.50" x2="146.90" y2="733.20" stroke="#f80404" stroke-width="3.9" stroke-linecap="butt"/>
<line x1="140.50" y1="733.20" x2="153.30" y2="733.20" stroke="#f80404" stroke-width="3.2" stroke-linecap="round"/>
<line x1="164.80" y1="729.80" x2="164.80" y2="715.20" stroke="#f80404" stroke-width="3.9" stroke-linecap="butt"/>
<line x1="158.40" y1="715.20" x2="171.20" y2="715.20" stroke="#f80404" stroke-width="3.2" stroke-linecap="round"/>
<line x1="164.80" y1="729.80" x2="164.80" y2="744.40" stroke="#f80404" stroke-width="3.9" stroke-linecap="butt"/>
<line x1="158.40" y1="744.40" x2="171.20" y2="744.40" stroke="#f80404" stroke-width="3.2" stroke-linecap="round"/>
<line x1="189.60" y1="682.10" x2="189.60" y2="662.50" stroke="#f80404" stroke-width="3.9" stroke-linecap="butt"/>
<line x1="183.20" y1="662.50" x2="196.00" y2="662.50" stroke="#f80404" stroke-width="3.2" stroke-linecap="round"/>
<line x1="189.60" y1="682.10" x2="189.60" y2="701.70" stroke="#f80404" stroke-width="3.9" stroke-linecap="butt"/>
<line x1="183.20" y1="701.70" x2="196.00" y2="701.70" stroke="#f80404" stroke-width="3.2" stroke-linecap="round"/>
<line x1="232.00" y1="611.60" x2="232.00" y2="597.20" stroke="#f80404" stroke-width="3.9" stroke-linecap="butt"/>
<line x1="225.60" y1="597.20" x2="238.40" y2="597.20" stroke="#f80404" stroke-width="3.2" stroke-linecap="round"/>
<line x1="232.00" y1="611.60" x2="232.00" y2="626.00" stroke="#f80404" stroke-width="3.9" stroke-linecap="butt"/>
<line x1="225.60" y1="626.00" x2="238.40" y2="626.00" stroke="#f80404" stroke-width="3.2" stroke-linecap="round"/>
<line x1="253.30" y1="633.90" x2="253.30" y2="617.80" stroke="#f80404" stroke-width="3.9" stroke-linecap="butt"/>
<line x1="246.90" y1="617.80" x2="259.70" y2="617.80" stroke="#f80404" stroke-width="3.2" stroke-linecap="round"/>
<line x1="253.30" y1="633.90" x2="253.30" y2="649.90" stroke="#f80404" stroke-width="3.9" stroke-linecap="butt"/>
<line x1="246.90" y1="649.90" x2="259.70" y2="649.90" stroke="#f80404" stroke-width="3.2" stroke-linecap="round"/>
<line x1="274.90" y1="675.30" x2="274.90" y2="654.40" stroke="#f80404" stroke-width="3.9" stroke-linecap="butt"/>
<line x1="268.50" y1="654.40" x2="281.30" y2="654.40" stroke="#f80404" stroke-width="3.2" stroke-linecap="round"/>
<line x1="274.90" y1="675.30" x2="274.90" y2="696.20" stroke="#f80404" stroke-width="3.9" stroke-linecap="butt"/>
<line x1="268.50" y1="696.20" x2="281.30" y2="696.20" stroke="#f80404" stroke-width="3.2" stroke-linecap="round"/>
<line x1="317.50" y1="595.20" x2="317.50" y2="562.70" stroke="#f80404" stroke-width="3.9" stroke-linecap="butt"/>
<line x1="311.10" y1="562.70" x2="323.90" y2="562.70" stroke="#f80404" stroke-width="3.2" stroke-linecap="round"/>
<line x1="317.50" y1="595.20" x2="317.50" y2="627.60" stroke="#f80404" stroke-width="3.9" stroke-linecap="butt"/>
<line x1="311.10" y1="627.60" x2="323.90" y2="627.60" stroke="#f80404" stroke-width="3.2" stroke-linecap="round"/>
<line x1="338.40" y1="602.20" x2="338.40" y2="578.40" stroke="#f80404" stroke-width="3.9" stroke-linecap="butt"/>
<line x1="332.00" y1="578.40" x2="344.80" y2="578.40" stroke="#f80404" stroke-width="3.2" stroke-linecap="round"/>
<line x1="338.40" y1="602.20" x2="338.40" y2="626.00" stroke="#f80404" stroke-width="3.9" stroke-linecap="butt"/>
<line x1="332.00" y1="626.00" x2="344.80" y2="626.00" stroke="#f80404" stroke-width="3.2" stroke-linecap="round"/>
<line x1="360.00" y1="592.90" x2="360.00" y2="578.40" stroke="#f80404" stroke-width="3.9" stroke-linecap="butt"/>
<line x1="353.60" y1="578.40" x2="366.40" y2="578.40" stroke="#f80404" stroke-width="3.2" stroke-linecap="round"/>
<line x1="360.00" y1="592.90" x2="360.00" y2="607.30" stroke="#f80404" stroke-width="3.9" stroke-linecap="butt"/>
<line x1="353.60" y1="607.30" x2="366.40" y2="607.30" stroke="#f80404" stroke-width="3.2" stroke-linecap="round"/>
<line x1="402.30" y1="590.40" x2="402.30" y2="569.80" stroke="#f80404" stroke-width="3.9" stroke-linecap="butt"/>
<line x1="395.90" y1="569.80" x2="408.70" y2="569.80" stroke="#f80404" stroke-width="3.2" stroke-linecap="round"/>
<line x1="402.30" y1="590.40" x2="402.30" y2="610.90" stroke="#f80404" stroke-width="3.9" stroke-linecap="butt"/>
<line x1="395.90" y1="610.90" x2="408.70" y2="610.90" stroke="#f80404" stroke-width="3.2" stroke-linecap="round"/>
<line x1="416.80" y1="564.90" x2="416.80" y2="532.80" stroke="#f80404" stroke-width="3.9" stroke-linecap="butt"/>
<line x1="410.40" y1="532.80" x2="423.20" y2="532.80" stroke="#f80404" stroke-width="3.2" stroke-linecap="round"/>
<line x1="416.80" y1="564.90" x2="416.80" y2="597.00" stroke="#f80404" stroke-width="3.9" stroke-linecap="butt"/>
<line x1="410.40" y1="597.00" x2="423.20" y2="597.00" stroke="#f80404" stroke-width="3.2" stroke-linecap="round"/>
<line x1="501.80" y1="558.20" x2="501.80" y2="543.90" stroke="#f80404" stroke-width="3.9" stroke-linecap="butt"/>
<line x1="495.40" y1="543.90" x2="508.20" y2="543.90" stroke="#f80404" stroke-width="3.2" stroke-linecap="round"/>
<line x1="501.80" y1="558.20" x2="501.80" y2="572.70" stroke="#f80404" stroke-width="3.9" stroke-linecap="butt"/>
<line x1="495.40" y1="572.70" x2="508.20" y2="572.70" stroke="#f80404" stroke-width="3.2" stroke-linecap="round"/>
<polyline points="76.30,734.20 104.40,742.40 146.90,722.50 164.80,729.80 189.60,682.10 232.00,611.60 253.30,633.90 274.90,675.30 317.50,595.20 338.40,602.20 360.00,592.90 402.30,590.40 416.80,564.90 501.80,558.20" fill="none" stroke="#f80404" stroke-width="3.1" stroke-linejoin="miter"/>
<rect x="70.30" y="728.20" width="12" height="12" fill="#f80404"/>
<rect x="98.40" y="736.40" width="12" height="12" fill="#f80404"/>
<rect x="140.90" y="716.50" width="12" height="12" fill="#f80404"/>
<rect x="158.80" y="723.80" width="12" height="12" fill="#f80404"/>
<rect x="183.60" y="676.10" width="12" height="12" fill="#f80404"/>
<rect x="226.00" y="605.60" width="12" height="12" fill="#f80404"/>
<rect x="247.30" y="627.90" width="12" height="12" fill="#f80404"/>
<rect x="268.90" y="669.30" width="12" height="12" fill="#f80404"/>
<rect x="311.50" y="589.20" width="12" height="12" fill="#f80404"/>
<rect x="332.40" y="596.20" width="12" height="12" fill="#f80404"/>
<rect x="354.00" y="586.90" width="12" height="12" fill="#f80404"/>
<rect x="396.30" y="584.40" width="12" height="12" fill="#f80404"/>
<rect x="410.80" y="558.90" width="12" height="12" fill="#f80404"/>
<rect x="495.80" y="552.20" width="12" height="12" fill="#f80404"/>
<line x1="76.30" y1="754.60" x2="76.30" y2="742.30" stroke="#0000f2" stroke-width="3.9" stroke-linecap="butt"/>
<line x1="69.90" y1="742.30" x2="82.70" y2="742.30" stroke="#0000f2" stroke-width="3.2" stroke-linecap="round"/>
<line x1="76.30" y1="754.60" x2="76.30" y2="766.90" stroke="#0000f2" stroke-width="3.9" stroke-linecap="butt"/>
<line x1="69.90" y1="766.90" x2="82.70" y2="766.90" stroke="#0000f2" stroke-width="3.2" stroke-linecap="round"/>
<line x1="104.40" y1="724.00" x2="104.40" y2="707.60" stroke="#0000f2" stroke-width="3.9" stroke-linecap="butt"/>
<line x1="98.00" y1="707.60" x2="110.80" y2="707.60" stroke="#0000f2" stroke-width="3.2" stroke-linecap="round"/>
<line x1="104.40" y1="724.00" x2="104.40" y2="740.30" stroke="#0000f2" stroke-width="3.9" stroke-linecap="butt"/>
<line x1="98.00" y1="740.30" x2="110.80" y2="740.30" stroke="#0000f2" stroke-width="3.2" stroke-linecap="round"/>
<line x1="146.90" y1="721.10" x2="146.90" y2="700.10" stroke="#0000f2" stroke-width="3.9" stroke-linecap="butt"/>
<line x1="140.50" y1="700.10" x2="153.30" y2="700.10" stroke="#0000f2" stroke-width="3.2" stroke-linecap="round"/>
<line x1="146.90" y1="721.10" x2="146.90" y2="740.30" stroke="#0000f2" stroke-width="3.9" stroke-linecap="butt"/>
<line x1="140.50" y1="740.30" x2="153.30" y2="740.30" stroke="#0000f2" stroke-width="3.2" stroke-linecap="round"/>
<line x1="164.80" y1="585.40" x2="164.80" y2="573.10" stroke="#0000f2" stroke-width="3.9" stroke-linecap="butt"/>
<line x1="158.40" y1="573.10" x2="171.20" y2="573.10" stroke="#0000f2" stroke-width="3.2" stroke-linecap="round"/>
<line x1="164.80" y1="585.40" x2="164.80" y2="597.70" stroke="#0000f2" stroke-width="3.9" stroke-linecap="butt"/>
<line x1="158.40" y1="597.70" x2="171.20" y2="597.70" stroke="#0000f2" stroke-width="3.2" stroke-linecap="round"/>
<line x1="189.60" y1="756.90" x2="189.60" y2="733.10" stroke="#0000f2" stroke-width="3.9" stroke-linecap="butt"/>
<line x1="183.20" y1="733.10" x2="196.00" y2="733.10" stroke="#0000f2" stroke-width="3.2" stroke-linecap="round"/>
<line x1="189.60" y1="756.90" x2="189.60" y2="780.70" stroke="#0000f2" stroke-width="3.9" stroke-linecap="butt"/>
<line x1="183.20" y1="780.70" x2="196.00" y2="780.70" stroke="#0000f2" stroke-width="3.2" stroke-linecap="round"/>
<line x1="232.00" y1="750.30" x2="232.00" y2="730.60" stroke="#0000f2" stroke-width="3.9" stroke-linecap="butt"/>
<line x1="225.60" y1="730.60" x2="238.40" y2="730.60" stroke="#0000f2" stroke-width="3.2" stroke-linecap="round"/>
<line x1="232.00" y1="750.30" x2="232.00" y2="770.00" stroke="#0000f2" stroke-width="3.9" stroke-linecap="butt"/>
<line x1="225.60" y1="770.00" x2="238.40" y2="770.00" stroke="#0000f2" stroke-width="3.2" stroke-linecap="round"/>
<line x1="253.30" y1="702.20" x2="253.30" y2="688.80" stroke="#0000f2" stroke-width="3.9" stroke-linecap="butt"/>
<line x1="246.90" y1="688.80" x2="259.70" y2="688.80" stroke="#0000f2" stroke-width="3.2" stroke-linecap="round"/>
<line x1="253.30" y1="702.20" x2="253.30" y2="715.50" stroke="#0000f2" stroke-width="3.9" stroke-linecap="butt"/>
<line x1="246.90" y1="715.50" x2="259.70" y2="715.50" stroke="#0000f2" stroke-width="3.2" stroke-linecap="round"/>
<line x1="274.90" y1="750.20" x2="274.90" y2="742.10" stroke="#0000f2" stroke-width="3.9" stroke-linecap="butt"/>
<line x1="268.50" y1="742.10" x2="281.30" y2="742.10" stroke="#0000f2" stroke-width="3.2" stroke-linecap="round"/>
<line x1="274.90" y1="750.20" x2="274.90" y2="758.20" stroke="#0000f2" stroke-width="3.9" stroke-linecap="butt"/>
<line x1="268.50" y1="758.20" x2="281.30" y2="758.20" stroke="#0000f2" stroke-width="3.2" stroke-linecap="round"/>
<line x1="317.50" y1="670.70" x2="317.50" y2="650.60" stroke="#0000f2" stroke-width="3.9" stroke-linecap="butt"/>
<line x1="311.10" y1="650.60" x2="323.90" y2="650.60" stroke="#0000f2" stroke-width="3.2" stroke-linecap="round"/>
<line x1="317.50" y1="670.70" x2="317.50" y2="690.70" stroke="#0000f2" stroke-width="3.9" stroke-linecap="butt"/>
<line x1="311.10" y1="690.70" x2="323.90" y2="690.70" stroke="#0000f2" stroke-width="3.2" stroke-linecap="round"/>
<line x1="338.40" y1="756.30" x2="338.40" y2="732.20" stroke="#0000f2" stroke-width="3.9" stroke-linecap="butt"/>
<line x1="332.00" y1="732.20" x2="344.80" y2="732.20" stroke="#0000f2" stroke-width="3.2" stroke-linecap="round"/>
<line x1="338.40" y1="756.30" x2="338.40" y2="780.30" stroke="#0000f2" stroke-width="3.9" stroke-linecap="butt"/>
<line x1="332.00" y1="780.30" x2="344.80" y2="780.30" stroke="#0000f2" stroke-width="3.2" stroke-linecap="round"/>
<line x1="360.00" y1="760.20" x2="360.00" y2="751.80" stroke="#0000f2" stroke-width="3.9" stroke-linecap="butt"/>
<line x1="353.60" y1="751.80" x2="366.40" y2="751.80" stroke="#0000f2" stroke-width="3.2" stroke-linecap="round"/>
<line x1="360.00" y1="760.20" x2="360.00" y2="768.50" stroke="#0000f2" stroke-width="3.9" stroke-linecap="butt"/>
<line x1="353.60" y1="768.50" x2="366.40" y2="768.50" stroke="#0000f2" stroke-width="3.2" stroke-linecap="round"/>
<line x1="402.30" y1="736.80" x2="402.30" y2="728.60" stroke="#0000f2" stroke-width="3.9" stroke-linecap="butt"/>
<line x1="395.90" y1="728.60" x2="408.70" y2="728.60" stroke="#0000f2" stroke-width="3.2" stroke-linecap="round"/>
<line x1="402.30" y1="736.80" x2="402.30" y2="744.90" stroke="#0000f2" stroke-width="3.9" stroke-linecap="butt"/>
<line x1="395.90" y1="744.90" x2="408.70" y2="744.90" stroke="#0000f2" stroke-width="3.2" stroke-linecap="round"/>
<line x1="416.80" y1="791.00" x2="416.80" y2="779.30" stroke="#0000f2" stroke-width="3.9" stroke-linecap="butt"/>
<line x1="410.40" y1="779.30" x2="423.20" y2="779.30" stroke="#0000f2" stroke-width="3.2" stroke-linecap="round"/>
<line x1="416.80" y1="791.00" x2="416.80" y2="802.60" stroke="#0000f2" stroke-width="3.9" stroke-linecap="butt"/>
<line x1="410.40" y1="802.60" x2="423.20" y2="802.60" stroke="#0000f2" stroke-width="3.2" stroke-linecap="round"/>
<line x1="501.80" y1="775.80" x2="501.80" y2="751.20" stroke="#0000f2" stroke-width="3.9" stroke-linecap="butt"/>
<line x1="495.40" y1="751.20" x2="508.20" y2="751.20" stroke="#0000f2" stroke-width="3.2" stroke-linecap="round"/>
<line x1="501.80" y1="775.80" x2="501.80" y2="800.30" stroke="#0000f2" stroke-width="3.9" stroke-linecap="butt"/>
<line x1="495.40" y1="800.30" x2="508.20" y2="800.30" stroke="#0000f2" stroke-width="3.2" stroke-linecap="round"/>
<polyline points="76.30,754.60 104.40,724.00 146.90,721.10 164.80,585.40 189.60,756.90 232.00,750.30 253.30,702.20 274.90,750.20 317.50,670.70 338.40,756.30 360.00,760.20 402.30,736.80 416.80,791.00 501.80,775.80" fill="none" stroke="#0000f2" stroke-width="3.1" stroke-linejoin="miter"/>
<circle cx="76.30" cy="754.60" r="6.20" fill="#0000f2"/>
<circle cx="104.40" cy="724.00" r="6.20" fill="#0000f2"/>
<circle cx="146.90" cy="721.10" r="6.20" fill="#0000f2"/>
<circle cx="164.80" cy="585.40" r="6.20" fill="#0000f2"/>
<circle cx="189.60" cy="756.90" r="6.20" fill="#0000f2"/>
<circle cx="232.00" cy="750.30" r="6.20" fill="#0000f2"/>
<circle cx="253.30" cy="702.20" r="6.20" fill="#0000f2"/>
<circle cx="274.90" cy="750.20" r="6.20" fill="#0000f2"/>
<circle cx="317.50" cy="670.70" r="6.20" fill="#0000f2"/>
<circle cx="338.40" cy="756.30" r="6.20" fill="#0000f2"/>
<circle cx="360.00" cy="760.20" r="6.20" fill="#0000f2"/>
<circle cx="402.30" cy="736.80" r="6.20" fill="#0000f2"/>
<circle cx="416.80" cy="791.00" r="6.20" fill="#0000f2"/>
<circle cx="501.80" cy="775.80" r="6.20" fill="#0000f2"/>
</svg>
</body></html>
